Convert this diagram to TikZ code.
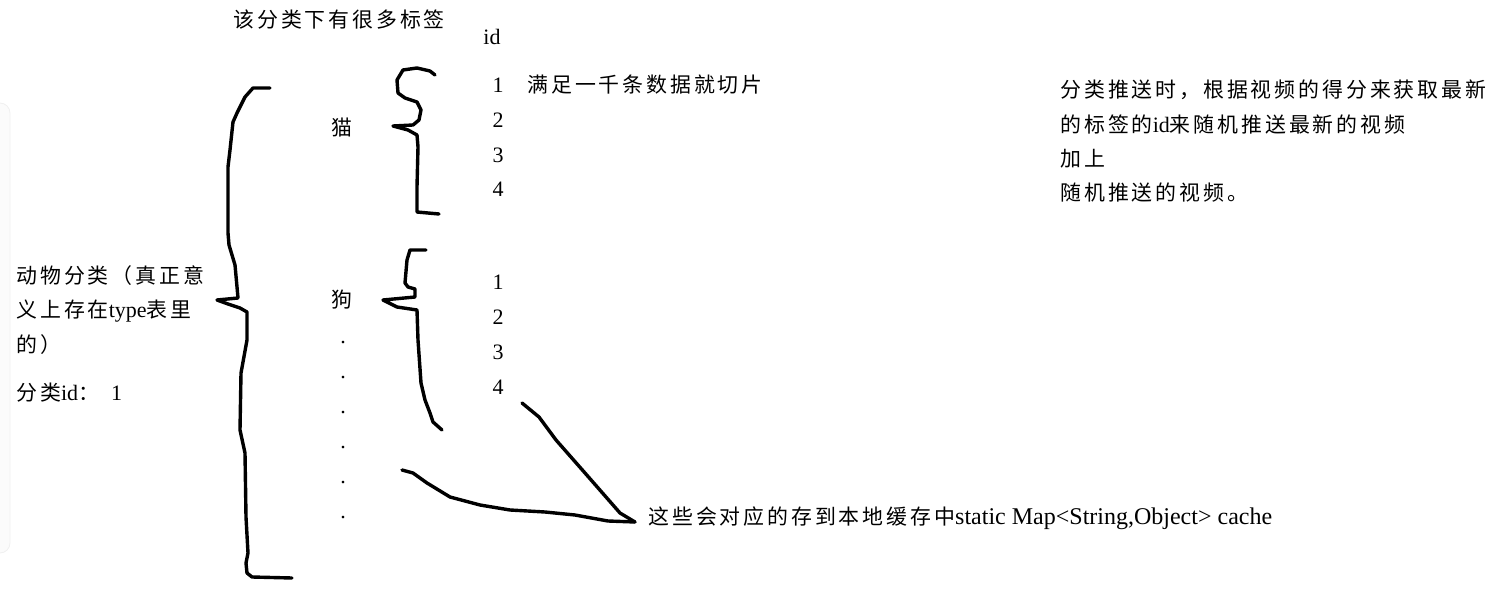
\documentclass[tikz,border=0pt]{standalone}
\usepackage{fontspec}
\setmainfont{Liberation Serif}
\newfontfamily\zhfont[Scale=0.95,LetterSpace=14]{Noto Sans CJK SC}
\usepackage{tikz}
\tikzset{hand/.style={line width=1.7pt, line join=round, line cap=round},
  memo/.style={anchor=west, inner sep=1pt, font=\fontsize{11}{13}\selectfont},
  num/.style={inner sep=1pt, font=\fontsize{11}{13}\selectfont}}

\begin{document}
\begin{tikzpicture}[x=0.5pt, y=-0.5pt]
  \useasboundingbox (0,0) rectangle (1499,609);

  %左の枠
  \draw[gray!12, fill=gray!3, rounded corners=5pt] (-30,103) rectangle (10,553);

  %分类
  \node[memo] (type1) at (14,276) {\zhfont 动物分类（真正意};
  \node[memo] (type2) at (14,311) {{\zhfont 义上存在}type{\zhfont 表里}};
  \node[memo] (type3) at (14,345) {\zhfont 的）};
  \node[memo] (typeid) at (14,393) {{\zhfont 分类}id{\zhfont ：}\hspace{6pt}1};

  %大括号
  \draw[hand] (270,88) -- (253,88) -- (245,97) -- (237,113) -- (233,122) -- (230,150)
    -- (228,167) -- (228,233) -- (229,245) -- (235,265) -- (238,298) -- (217,300)
    -- (228,304) -- (240,308) -- (247,312) -- (247,340) -- (241,373) -- (240,430)
    -- (245,453) -- (246,517) -- (248,553) -- (246,563) -- (247,573) -- (252,577) -- (292,578);

  %标签
  \node[memo] (tags) at (231,20) {\zhfont 该分类下有很多标签};
  \node[num] (id) at (492,37) {id};
  \node[memo] (cat) at (329,128) {\zhfont 猫};
  \node[memo] (dog) at (329,300) {\zhfont 狗};
  \foreach \i in {1,...,6}
    \node[num] (dot\i) at (343,{343+35*(\i-1)}) {.};

  %猫のid
  \draw[hand] (435,75) -- (430,71) -- (417,68) -- (403,70) -- (397,80) -- (398,93)
    -- (405,98) -- (417,102) -- (421,110) -- (419,120) -- (413,125) -- (393,126)
    -- (408,130) -- (417,135) -- (418,147) -- (417,187) -- (417,212) -- (439,214);
  \node[num] (catid1) at (498,85) {1};
  \node[num] (catid2) at (498,120) {2};
  \node[num] (catid3) at (498,155) {3};
  \node[num] (catid4) at (498,189) {4};
  \node[memo] (slice) at (525,85) {\zhfont 满足一千条数据就切片};

  %狗のid
  \draw[hand] (426,250) -- (410,250) -- (407,260) -- (405,283) -- (408,287) -- (415,289)
    -- (415,297) -- (383,300) -- (397,307) -- (417,310) -- (418,340) -- (421,383)
    -- (425,400) -- (430,413) -- (433,422) -- (442,430);
  \node[num] (dogid1) at (498,282) {1};
  \node[num] (dogid2) at (498,317) {2};
  \node[num] (dogid3) at (498,352) {3};
  \node[num] (dogid4) at (498,387) {4};

  %cache
  \node[memo, inner xsep=6.5pt] (cache) at (635,518)
    {{\zhfont 这些会对应的存到本地缓存中}{\fontsize{12}{14}\selectfont static Map<String,Object> cache}};
  \coordinate (fromid) at (522,403);
  \coordinate (fromdots) at (402,470);
  \draw[hand] (fromid) -- (539,417) -- (556,440) -- (585,473) -- (620,513) -- ([yshift=-2pt]cache.west);
  \draw[hand] (fromdots) -- (413,473) -- (427,483) -- (450,497) -- (480,505) -- (510,510)
    -- (545,512) -- (575,515) -- (608,521) -- ([yshift=-2pt]cache.west);

  %推送
  \node[memo] (push1) at (1058,90) {\zhfont 分类推送时，根据视频的得分来获取最新};
  \node[memo] (push2) at (1058,125) {{\zhfont 的标签的}id{\zhfont 来随机推送最新的视频}};
  \node[memo] (push3) at (1058,159) {\zhfont 加上};
  \node[memo] (push4) at (1058,193) {\zhfont 随机推送的视频。};

\end{tikzpicture}
\end{document}
